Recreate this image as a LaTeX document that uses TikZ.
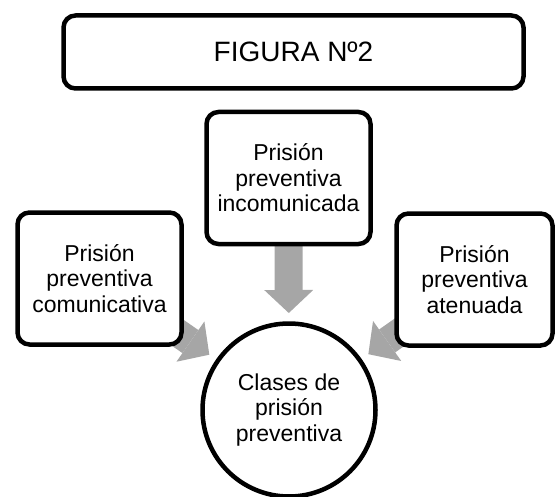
\documentclass[tikz,border=0pt]{standalone}
\usepackage{fontspec}
\setmainfont{Liberation Sans}
\definecolor{ArrowGray}{RGB}{166,166,166}
\usetikzlibrary{arrows.meta, positioning, shapes, calc, backgrounds}

\begin{document}
\begin{tikzpicture}[x=1pt, y=-1pt,
    classbox/.style={draw, line width=4.5pt, rounded corners=12pt, fill=white, align=center,
        minimum width=164pt, minimum height=132pt, inner sep=2pt,
        font=\fontsize{23}{25.5}\selectfont},
    blockarrow/.style={ArrowGray, line width=28pt,
        -{Triangle[width=49pt, length=23pt, line width=0pt]}}]
    \useasboundingbox (0,0) rectangle (556,497);

    % Title
    \node[draw, line width=4.5pt, rounded corners=12pt, minimum width=460pt, minimum height=73pt,
        font=\fontsize{28}{30}\selectfont] (title) at (293.5,52) {FIGURA Nº2};

    % Boxes
    \node[classbox] (comun) at (99.5,278.5) {Prisión\\preventiva\\comunicativa};
    \node[classbox] (incom) at (288.5,178) {Prisión\\preventiva\\incomunicada};
    \node[classbox, minimum width=156pt] (aten) at (474.5,279.5) {Prisión\\preventiva\\atenuada};

    % Circle
    \node[circle, draw, line width=4.5pt, fill=white, minimum size=173pt, align=center,
        font=\fontsize{23}{25.5}\selectfont] (clases) at (289,410) {Clases de\\prisión\\preventiva};

    % Arrows behind the boxes
    \begin{scope}[on background layer]
        \draw[blockarrow] (comun.center) -- ($(clases.center)!97pt!(comun.center)$);
        \draw[blockarrow] (incom.center) -- ($(clases.center)!97pt!(incom.center)$);
        \draw[blockarrow] (aten.center) -- ($(clases.center)!97pt!(aten.center)$);
    \end{scope}
\end{tikzpicture}
\end{document}
